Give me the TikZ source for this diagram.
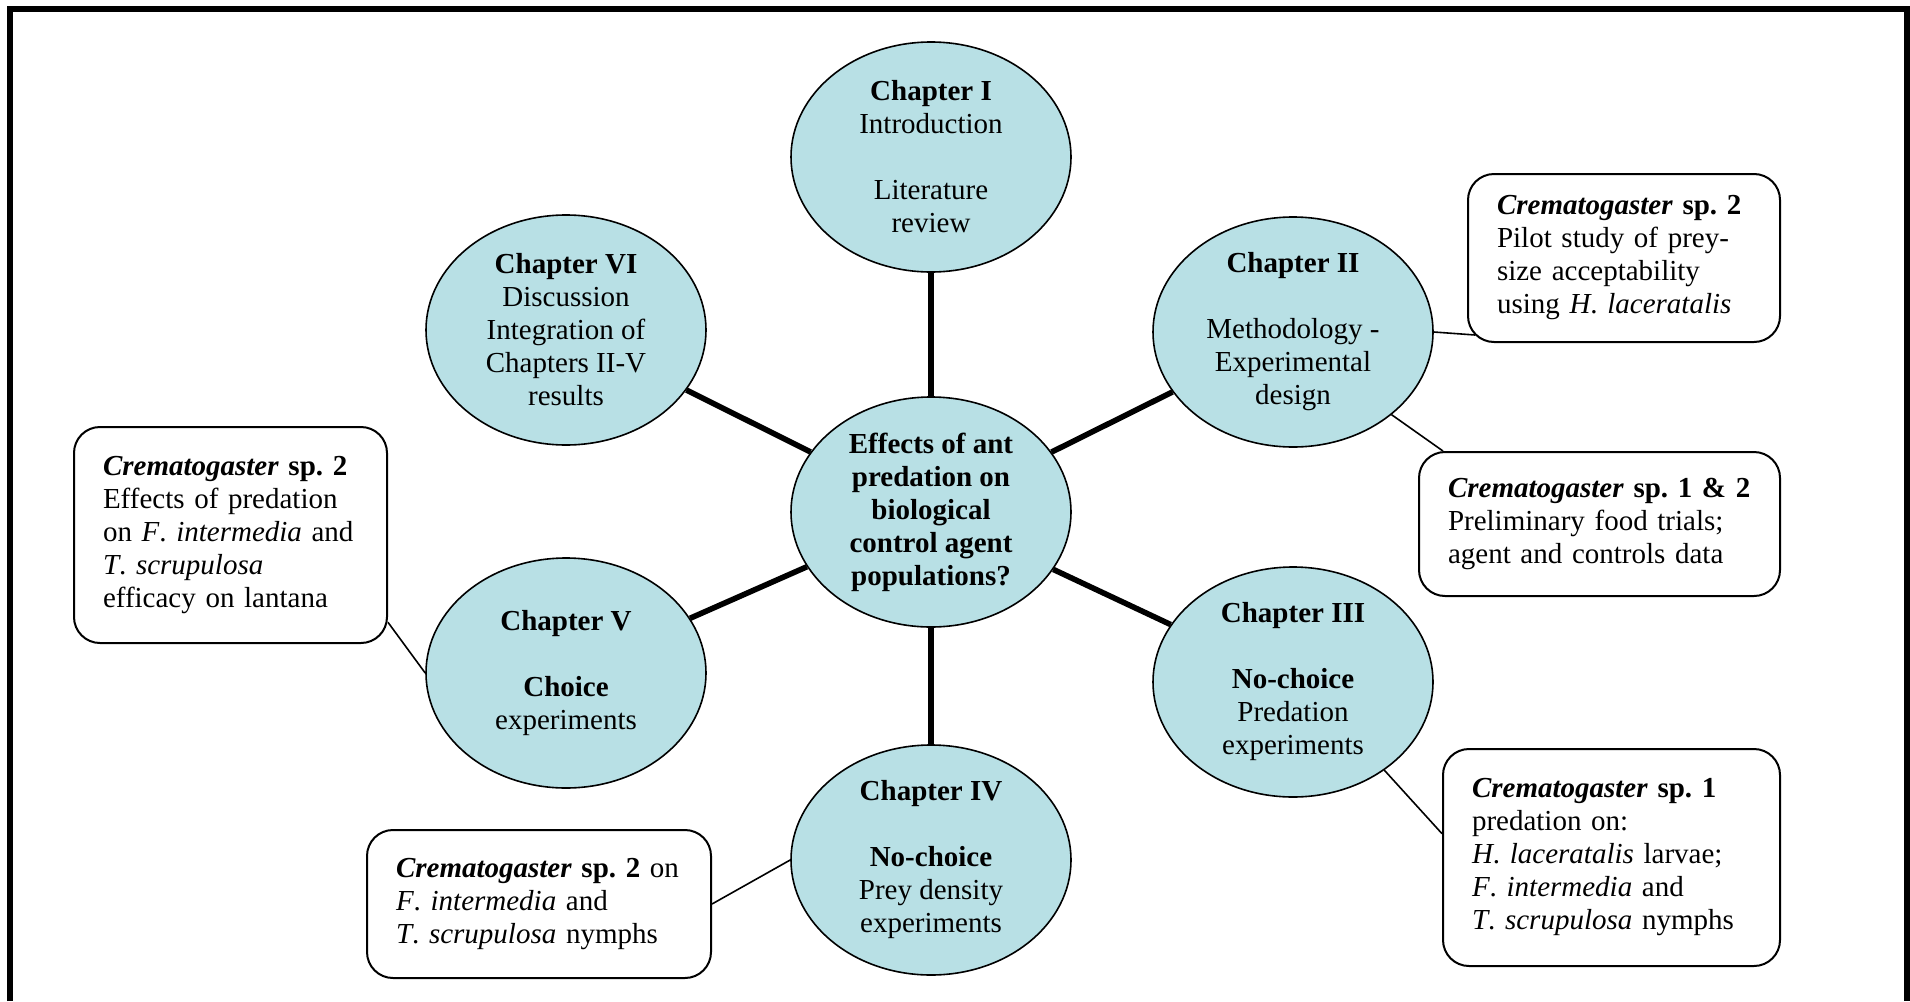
\documentclass[tikz,border=0pt]{standalone}
\usepackage{fontspec}
\setmainfont{Liberation Serif}
\usetikzlibrary{calc,shapes.geometric}
\definecolor{chapblue}{RGB}{184,224,229}

\begin{document}
\frenchspacing
\begin{tikzpicture}[x=0.5pt, y=-0.5pt,
  every node/.style={font=\fontsize{14.5}{16.5}\selectfont},
  chapter/.style={ellipse, draw, line width=0.8pt, fill=chapblue,
    minimum width=140pt, minimum height=115pt, inner sep=0pt, align=center},
  note/.style={draw, line width=1pt, rounded corners=13pt, fill=white,
    align=left, inner xsep=14.5pt, inner ysep=0pt},
  spoke/.style={line width=2.8pt},
  link/.style={line width=0.8pt}]
\useasboundingbox (0,0) rectangle (1910,1001);

% frame, open at the bottom
\draw[line width=3pt] (9.5,1001) -- (9.5,9) -- (1906.5,9) -- (1906.5,1001);

% chapters round the question
\node[chapter, font=\fontsize{14.5}{16.5}\selectfont\bfseries] (question) at (931,512)
  {Effects of ant\\predation on\\biological\\control agent\\populations?};
\node[chapter] (ch1) at (931,157)
  {\textbf{Chapter I}\\Introduction\\[16.5pt]Literature\\review};
\node[chapter] (ch2) at (1293,332)
  {\textbf{Chapter II}\\[16.5pt]Methodology -\\Experimental\\design};
\node[chapter] (ch3) at (1293,682)
  {\textbf{Chapter III}\\[16.5pt]\textbf{No-choice}\\Predation\\experiments};
\node[chapter] (ch4) at (931,860)
  {\textbf{Chapter IV}\\[16.5pt]\textbf{No-choice}\\Prey density\\experiments};
\node[chapter] (ch5) at (566,673)
  {\textbf{Chapter V}\\[16.5pt]\textbf{Choice}\\experiments};
\node[chapter] (ch6) at (566,330)
  {\textbf{Chapter VI}\\Discussion\\Integration of\\Chapters II-V\\results};

% notes
\node[note, text width=127pt, minimum height=84pt] (noteA) at (1624,258)
  {\textbf{\textit{Crematogaster} sp. 2}\\Pilot study of prey-\\size acceptability\\using \textit{H}. \textit{laceratalis}};
\node[note, text width=151.5pt, minimum height=72pt] (noteB) at (1599.5,524)
  {\textbf{\textit{Crematogaster} sp. 1 \& 2}\\Preliminary food trials;\\agent and controls data};
\node[note, text width=139.5pt, minimum height=108.5pt] (noteC) at (1611.5,857.5)
  {\textbf{\textit{Crematogaster} sp. 1}\\predation on:\\\textit{H}. \textit{laceratalis} larvae;\\\textit{F}. \textit{intermedia} and\\\textit{T}. \textit{scrupulosa} nymphs};
\node[note, text width=127.5pt, minimum height=108pt] (noteD) at (230.5,535)
  {\textbf{\textit{Crematogaster} sp. 2}\\Effects of predation\\on \textit{F}. \textit{intermedia} and\\\textit{T}. \textit{scrupulosa}\\efficacy on lantana};
\node[note, text width=143pt, minimum height=74pt] (noteE) at (539,904)
  {\textbf{\textit{Crematogaster} sp. 2} on\\\textit{F}. \textit{intermedia} and\\\textit{T}. \textit{scrupulosa} nymphs};

% spokes
\foreach \c in {ch1,ch2,ch3,ch4,ch5,ch6}
  \draw[spoke] (question) -- (\c);

% links to the notes
\draw[link] (ch2.east) -- ($(noteA.south west)+(4pt,4pt)$);
\draw[link] (ch2.-40) -- (noteB.155);
\draw[link] (ch3.-44) -- (noteC.172);
\draw[link] (noteD.-29) -- (ch5.west);
\draw[link] (noteE.east) -- (ch4.west);
\end{tikzpicture}
\end{document}
